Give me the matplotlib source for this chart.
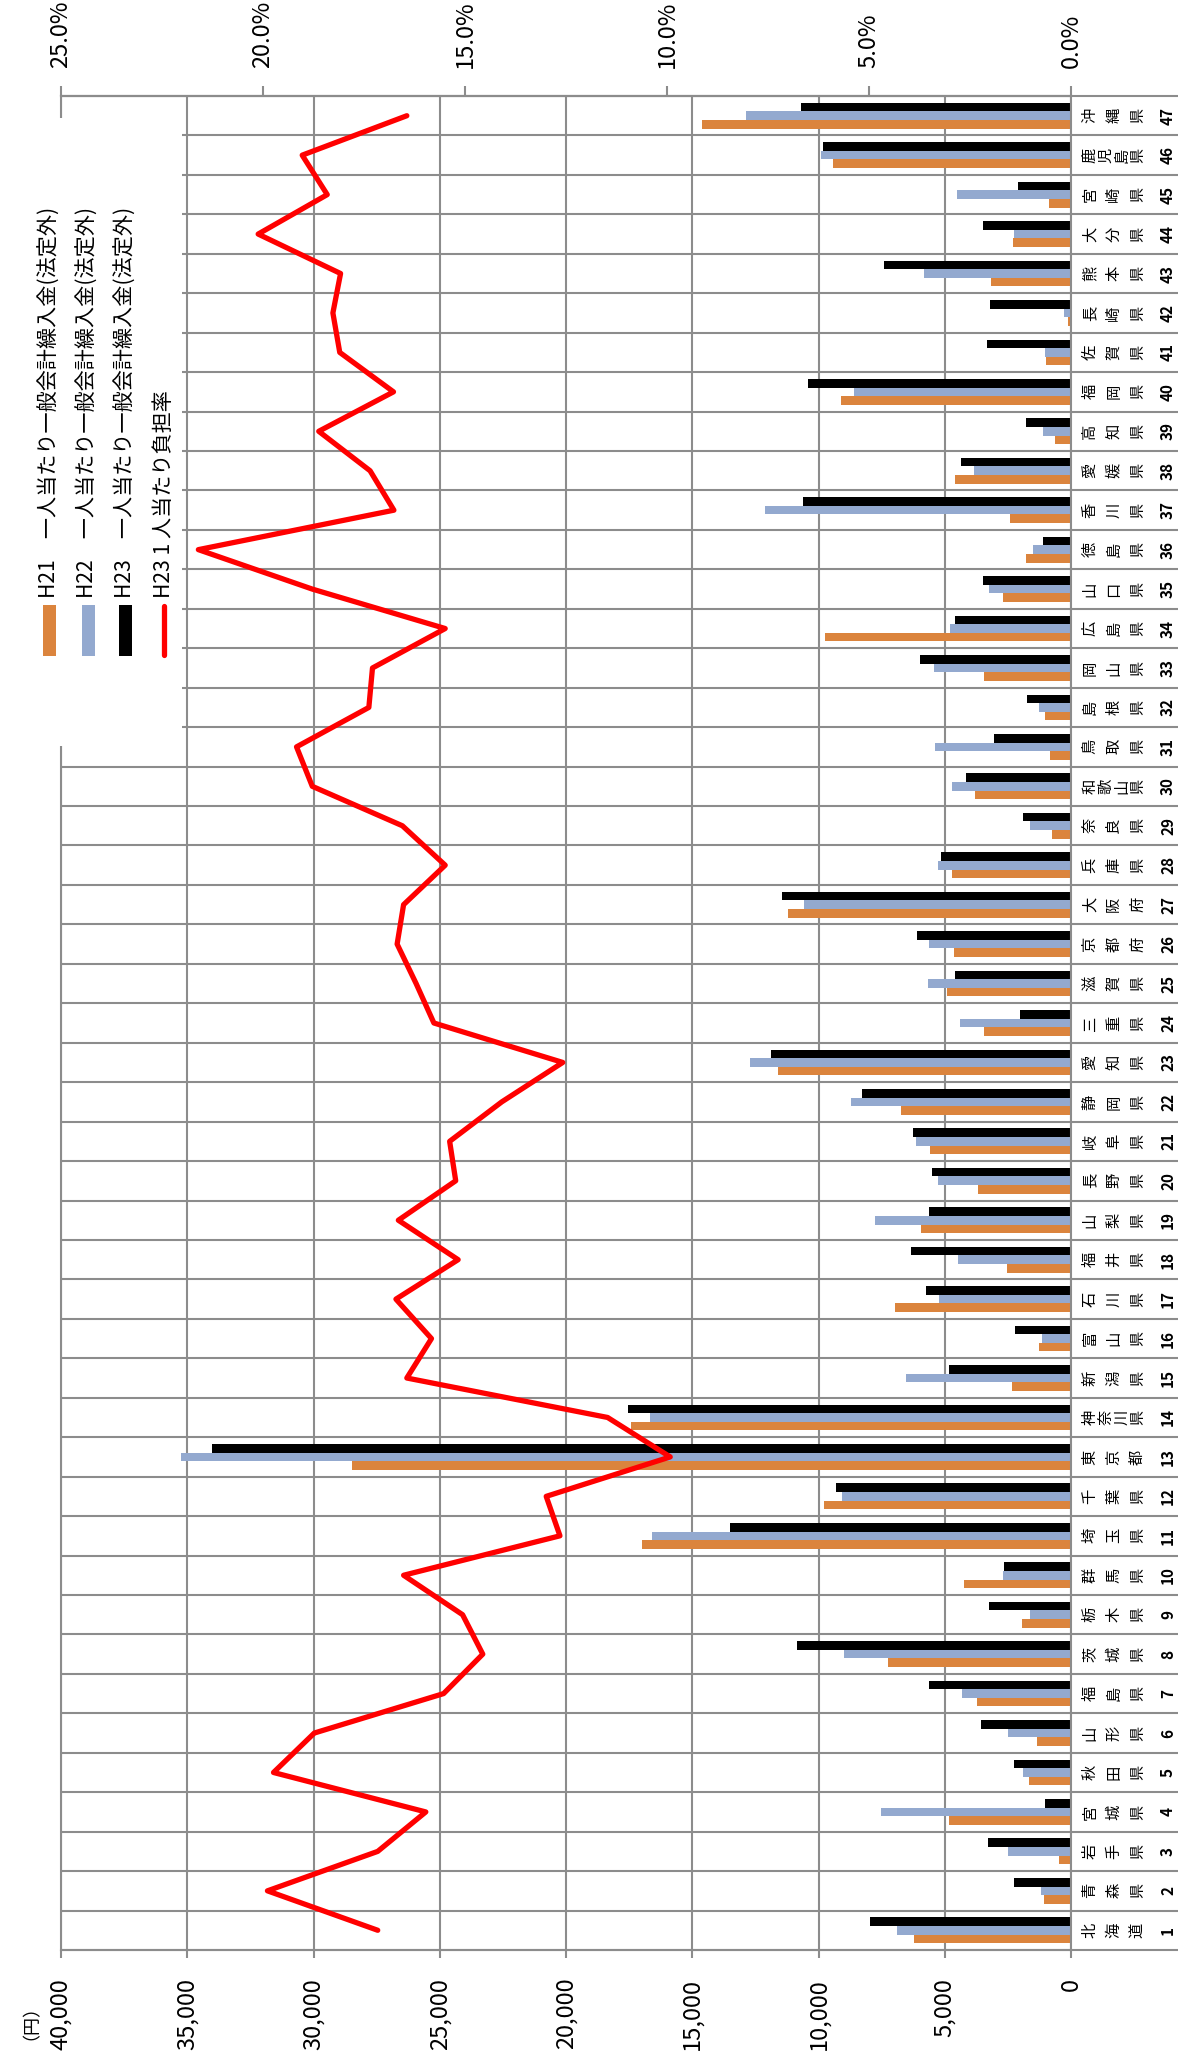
import matplotlib
matplotlib.use('Agg')
import matplotlib.pyplot as plt
from matplotlib import transforms
from matplotlib.patches import Rectangle
from matplotlib.lines import Line2D
import numpy as np

plt.rcParams['font.family'] = ['Noto Sans CJK JP', 'DejaVu Sans']

# ---------------- data ----------------
prefectures = ['北海道', '青森県', '岩手県', '宮城県', '秋田県', '山形県', '福島県', '茨城県', '栃木県', '群馬県',
               '埼玉県', '千葉県', '東京都', '神奈川県', '新潟県', '富山県', '石川県', '福井県', '山梨県', '長野県',
               '岐阜県', '静岡県', '愛知県', '三重県', '滋賀県', '京都府', '大阪府', '兵庫県', '奈良県', '和歌山県',
               '鳥取県', '島根県', '岡山県', '広島県', '山口県', '徳島県', '香川県', '愛媛県', '高知県', '福岡県',
               '佐賀県', '長崎県', '熊本県', '大分県', '宮崎県', '鹿児島県', '沖縄県']
pref_numbers = list(range(1, 48))

h21 = [6200, 1080, 490, 4850, 1660, 1330, 3720, 7250, 1930, 4220,
       17000, 9790, 28460, 17420, 2320, 1270, 6980, 2550, 5950, 3690,
       5570, 6750, 11620, 3460, 4930, 4640, 11200, 4700, 770, 3810,
       830, 1030, 3440, 9730, 2680, 1790, 2430, 4590, 620, 9100,
       980, 110, 3170, 2310, 880, 9440, 14630]
h22 = [6880, 1180, 2510, 7530, 1910, 2510, 4330, 9000, 1620, 2700,
       16600, 9080, 35250, 16690, 6540, 1130, 5220, 4490, 7760, 5280,
       6150, 8700, 12730, 4380, 5670, 5630, 10580, 5280, 1620, 4700,
       5380, 1270, 5410, 4810, 3260, 1520, 12120, 3850, 1120, 8580,
       1020, 280, 5840, 2270, 4520, 9920, 12860]
h23 = [7950, 2250, 3300, 1040, 2240, 3570, 5630, 10840, 3250, 2650,
       13490, 9300, 34010, 17530, 4840, 2220, 5730, 6330, 5630, 5500,
       6270, 8280, 11880, 2030, 4590, 6090, 11440, 5140, 1910, 4170,
       3030, 1730, 5990, 4590, 3500, 1120, 10630, 4340, 1780, 10410,
       3340, 3220, 7410, 3480, 2090, 9810, 10700]
h23_rate = [17.16, 19.89, 17.16, 15.97, 19.74, 18.73, 15.53, 14.56, 15.06, 16.52,
            12.65, 12.99, 9.92, 11.47, 16.44, 15.83, 16.71, 15.17, 16.65, 15.23,
            15.38, 14.09, 12.58, 15.77, 16.21, 16.68, 16.52, 15.49, 16.55, 18.78,
            19.17, 17.38, 17.29, 15.49, 18.78, 21.60, 16.76, 17.35, 18.62, 16.77,
            18.10, 18.27, 18.08, 20.12, 18.41, 19.03, 16.44]

series_names = ['H21　一人当たり一般会計繰入金(法定外)',
                'H22　一人当たり一般会計繰入金(法定外)',
                'H23　一人当たり一般会計繰入金(法定外)']
line_name = 'H23 1 人当たり負担率'
yen_ticks = [0, 5000, 10000, 15000, 20000, 25000, 30000, 35000, 40000]
yen_labels = ['0', '5,000', '10,000', '15,000', '20,000', '25,000', '30,000', '35,000', '40,000']
pct_ticks = [0, 5, 10, 15, 20, 25]
pct_labels = ['0.0%', '5.0%', '10.0%', '15.0%', '20.0%', '25.0%']
unit_label = '（円）'

# ---------------- style ----------------
C_ORANGE = '#DB843D'
C_BLUE = '#93A9CF'
C_BLACK = '#000000'
C_RED = '#FF0000'
C_GRID = '#8C8C8C'
GRID_LW = 1.5

W, H = 1178, 2067
fig = plt.figure(figsize=(W / 100, H / 100), dpi=100)
fig.patch.set_facecolor('white')

L, R, T, B = 61, 1071, 96, 1950
ax = fig.add_axes([L / W, 1 - B / H, (R - L) / W, (B - T) / H])

def fx(px):
    return px / W

def fy(py):
    return 1 - py / H

y = np.arange(1, 48)
bh = 0.218
ax.barh(y - bh, h21, height=bh, color=C_ORANGE, zorder=2, linewidth=0)
ax.barh(y, h22, height=bh, color=C_BLUE, zorder=2, linewidth=0)
ax.barh(y + bh, h23, height=bh, color=C_BLACK, zorder=2, linewidth=0)

ax.set_xlim(40000, 0)
ax.set_ylim(0.5, 47.5)
ax.set_xticks(yen_ticks)
ax.set_xticklabels(yen_labels)
ax.set_yticks([])
ax.grid(axis='x', color=C_GRID, lw=GRID_LW, zorder=0)
ax.set_axisbelow(True)
ax.tick_params(axis='x', direction='out', length=6, width=GRID_LW, color=C_GRID,
               pad=14, labelsize=17, labelrotation=90)
for s in ax.spines.values():
    s.set_color(C_GRID)
    s.set_linewidth(GRID_LW)

# category separators extending through the label area
ax.hlines(np.arange(0.5, 48, 1), 0, (W - L) / (R - L), transform=ax.get_yaxis_transform(),
          clip_on=False, color=C_GRID, lw=GRID_LW, zorder=1)

# secondary (percent) axis
ax2 = ax.twiny()
ax2.set_xlim(25, 0)
ax2.set_xticks(pct_ticks)
ax2.set_xticklabels(pct_labels)
ax2.tick_params(axis='x', direction='out', length=7, width=GRID_LW, color=C_GRID,
                pad=13, labelsize=17, labelrotation=90)
for k, s in ax2.spines.items():
    s.set_visible(k == 'top')
    s.set_color(C_GRID)
    s.set_linewidth(GRID_LW)
ax2.plot(h23_rate, y, color=C_RED, lw=3.8, solid_joinstyle='round', solid_capstyle='round', zorder=5)

# category labels (each character rotated)
tr = transforms.blended_transform_factory(fig.transFigure, ax.transData)
for i, name in enumerate(prefectures):
    xs = np.linspace(1090, 1137.5, len(name))
    for ch, xp in zip(name, xs):
        ax.text(fx(xp), y[i], ch, transform=tr, rotation=90, ha='center', va='center',
                rotation_mode='anchor', fontsize=11, clip_on=False)
    ax.text(fx(1168), y[i], str(pref_numbers[i]), transform=tr, rotation=90, ha='center',
            va='center', rotation_mode='anchor', fontsize=11, fontweight='bold', clip_on=False)

# legend (rotated), with white background
fig.add_artist(Rectangle((fx(28), fy(746)), (182 - 28) / W, (746 - 118) / H,
                         transform=fig.transFigure, facecolor='white', edgecolor='none', zorder=5))
leg_x = [49.5, 88, 125.5, 163.5]
colors = [C_ORANGE, C_BLUE, C_BLACK]
for j in range(3):
    fig.add_artist(Rectangle((fx(leg_x[j] - 6.5), fy(656)), 13 / W, 51 / H,
                             transform=fig.transFigure, facecolor=colors[j], edgecolor='none', zorder=6))
    fig.text(fx(leg_x[j]), fy(598), series_names[j], rotation=90, rotation_mode='anchor',
             ha='left', va='center', fontsize=15.2, zorder=6)
fig.add_artist(Line2D([fx(leg_x[3]), fx(leg_x[3])], [fy(655), fy(606)], transform=fig.transFigure,
                      color=C_RED, lw=3.8, solid_capstyle='round', zorder=6))
fig.text(fx(leg_x[3]), fy(598), line_name, rotation=90, rotation_mode='anchor',
         ha='left', va='center', fontsize=15.2, zorder=6)

fig.text(fx(22), fy(2013), unit_label, rotation=90, rotation_mode='anchor',
         ha='center', va='center', fontsize=13)

fig.savefig('out.png', dpi=100, facecolor='white')
